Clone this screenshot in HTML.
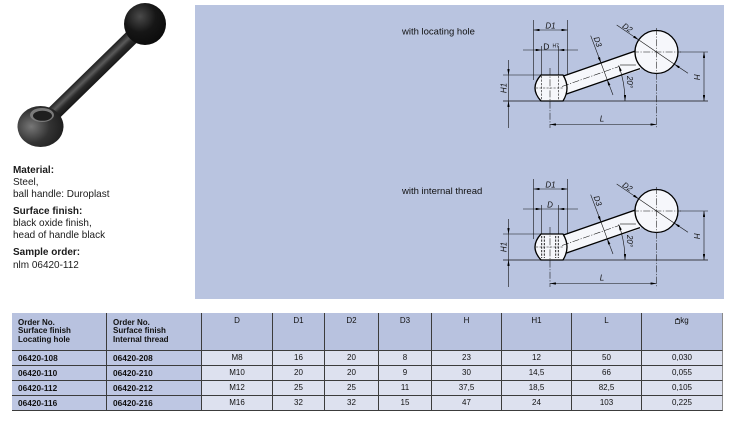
<!DOCTYPE html>
<html><head><meta charset="utf-8">
<style>
*{margin:0;padding:0;box-sizing:border-box}
html,body{width:737px;height:421px;overflow:hidden;background:#fff}
body{position:relative;font-family:"Liberation Sans",Arial,sans-serif;color:#111}
svg.main{position:absolute;left:0;top:0}
.l{position:absolute;left:13px;font-size:10.5px;line-height:12px;white-space:nowrap;transform:scaleX(0.95);transform-origin:0 0;color:#1a1a1a}
.b{font-weight:bold}
.grid{position:absolute;left:12px;top:313px;display:grid;grid-template-columns:95px 95px 71px 52px 54px 53px 70px 70px 70px 81px;grid-template-rows:38px 15px 15px 15px 15px;width:711px}
.grid div{border-right:1px solid #3c3c3c;border-bottom:1px solid #3c3c3c;white-space:nowrap;overflow:hidden}
.h{background:#b8c2df;font-size:8px;line-height:8.5px}
.ho{font-weight:bold;padding:5.5px 0 0 6px}
.hc{text-align:center;padding-top:4px}
.o{background:#bec7e3;font-weight:bold;font-size:8.3px;line-height:14px;padding-left:6px}
.v{background:#dde1ef;font-size:8px;line-height:14px;text-align:center}
.grid div.e{border-right:1px solid #8a8a8a}
.n{stroke:#111;stroke-width:.6;fill:none}
.k{stroke:#000;stroke-width:1.3}
.c{stroke:#111;stroke-width:.55;stroke-dasharray:7 1.5 1.2 1.5;fill:none}
.hd{stroke:#111;stroke-width:.6;stroke-dasharray:2.2 1.3;fill:none}
.lb{font-family:"Liberation Sans",sans-serif;font-style:italic;font-size:8px;fill:#111}
.tt{font-family:"Liberation Sans",sans-serif;font-size:9.5px;fill:#111}
</style></head><body>
<svg class="main" width="737" height="421" viewBox="0 0 737 421" xmlns="http://www.w3.org/2000/svg">
<defs>
<marker id="ar" viewBox="0 0 6 2.4" refX="6" refY="1.2" markerWidth="6" markerHeight="2.4" orient="auto-start-reverse" markerUnits="userSpaceOnUse"><path d="M0,0L6,1.2L0,2.4z" fill="#000"/></marker>
<radialGradient id="g1" cx="0.38" cy="0.32" r="0.75"><stop offset="0" stop-color="#4a4a4a"/><stop offset="0.5" stop-color="#161616"/><stop offset="1" stop-color="#0a0a0a"/></radialGradient>
<radialGradient id="g2" cx="0.3" cy="0.5" r="0.8"><stop offset="0" stop-color="#777"/><stop offset="0.5" stop-color="#333"/><stop offset="1" stop-color="#181818"/></radialGradient>
<linearGradient id="sg" gradientUnits="userSpaceOnUse" x1="44.8" y1="111.6" x2="55.2" y2="122.4"><stop offset="0" stop-color="#222"/><stop offset="0.35" stop-color="#5a5a5a"/><stop offset="0.6" stop-color="#2a2a2a"/><stop offset="1" stop-color="#161616"/></linearGradient>
</defs>

<!-- photo -->
<polygon points="55.2,122.4 44.8,111.6 130.8,27.6 141.2,38.4" fill="url(#sg)"/>
<circle cx="145" cy="24" r="21" fill="url(#g1)"/>
<ellipse cx="40.5" cy="126.5" rx="23" ry="20.5" fill="url(#g2)"/>
<ellipse cx="42" cy="115" rx="12" ry="7" fill="#7a7a7a"/>
<ellipse cx="42.5" cy="115.8" rx="9.5" ry="5" fill="#1e1e1e"/>

<!-- panel -->
<rect x="195" y="5" width="529" height="294" fill="#b9c4e0"/>

<!-- ============ Diagram 1 ============ -->
<g>
<text class="tt" x="402" y="34.5">with locating hole</text>
<line x1="503" y1="101" x2="708" y2="101" class="n" style="stroke-width:.8"/>
<line x1="503" y1="75" x2="541" y2="75" class="n"/>
<line x1="680" y1="52" x2="708" y2="52" class="n"/>
<line x1="508.5" y1="60" x2="508.5" y2="75" class="n" marker-end="url(#ar)"/>
<line x1="508.5" y1="128" x2="508.5" y2="101" class="n" marker-end="url(#ar)"/>
<line x1="508.5" y1="75" x2="508.5" y2="101" class="n"/>
<text class="lb" transform="translate(506.5,88) rotate(-90)" text-anchor="middle">H1</text>
<line x1="533.5" y1="20" x2="533.5" y2="80" class="n"/>
<line x1="567.5" y1="20" x2="567.5" y2="75" class="n"/>
<line x1="533.5" y1="30" x2="567.5" y2="30" class="n" marker-start="url(#ar)" marker-end="url(#ar)"/>
<text class="lb" x="550.5" y="28.5" text-anchor="middle">D1</text>
<line x1="541.7" y1="46" x2="541.7" y2="75" class="n"/>
<line x1="558.3" y1="46" x2="558.3" y2="75" class="n"/>
<line x1="523" y1="50" x2="541.7" y2="50" class="n" marker-end="url(#ar)"/>
<line x1="578" y1="50" x2="558.3" y2="50" class="n" marker-end="url(#ar)"/>
<line x1="541.7" y1="50" x2="558.3" y2="50" class="n"/>
<text x="543.3" y="49.5" font-size="8.5" font-family="Liberation Sans, sans-serif" fill="#111">D</text>
<text x="552.5" y="47.3" font-size="5" font-family="Liberation Sans, sans-serif" fill="#111">H7</text>
<line x1="704" y1="52" x2="704" y2="101" class="n" marker-start="url(#ar)" marker-end="url(#ar)"/>
<text class="lb" transform="translate(694,77) rotate(90)" text-anchor="middle">H</text>
<line x1="550" y1="124.5" x2="656.5" y2="124.5" class="n" marker-start="url(#ar)" marker-end="url(#ar)"/>
<text class="lb" x="602" y="121.5" text-anchor="middle">L</text>
<polygon points="563,76 636,50.5 641,69.5 566.5,94" fill="#f6f7fb"/>
<line x1="563.5" y1="76" x2="636" y2="50.8" class="k"/>
<line x1="566.5" y1="94" x2="640" y2="68.6" class="k"/>
<path d="M541,75 L563,75 Q571,88 563,101 L541,101 Q529,88 541,75 Z" fill="#f6f7fb" class="k"/>
<circle cx="656.5" cy="52" r="21.5" fill="#f6f7fb" class="k"/>
<line x1="541.7" y1="76" x2="541.7" y2="100" class="hd"/>
<line x1="558.3" y1="76" x2="558.3" y2="100" class="hd"/>
<line x1="536" y1="88" x2="564" y2="88" class="hd"/>
<line x1="550" y1="68" x2="550" y2="128" class="c"/>
<line x1="562" y1="86.5" x2="619" y2="66.5" class="c"/>
<line x1="620" y1="65" x2="636" y2="65" class="n"/>
<path d="M625,101 A104,104 0 0 0 618.7,65.4" class="n" marker-start="url(#ar)" marker-end="url(#ar)"/>
<text class="lb" transform="translate(627,82) rotate(90)" text-anchor="middle">20°</text>
<line x1="656.5" y1="28" x2="656.5" y2="128" class="c"/>
<line x1="632" y1="52" x2="681" y2="52" class="c"/>
<line x1="616.7" y1="25" x2="638.7" y2="39.9" class="n" marker-end="url(#ar)"/>
<line x1="688" y1="73.3" x2="674.3" y2="64.1" class="n" marker-end="url(#ar)"/>
<line x1="638.7" y1="39.9" x2="674.3" y2="64.1" class="n"/>
<text class="lb" transform="translate(626,30) rotate(34)" text-anchor="middle">D2</text>
<line x1="590.7" y1="35.7" x2="601" y2="63" class="n" marker-end="url(#ar)"/>
<line x1="613" y1="95" x2="607.2" y2="79.7" class="n" marker-end="url(#ar)"/>
<line x1="601" y1="63" x2="607.2" y2="79.7" class="n"/>
<text class="lb" transform="translate(595.2,42.7) rotate(70)" text-anchor="middle">D3</text>
</g>

<!-- ============ Diagram 2 ============ -->
<g transform="translate(0,159)">
<text class="tt" x="402" y="35">with internal thread</text>
<line x1="503" y1="101" x2="708" y2="101" class="n" style="stroke-width:.8"/>
<line x1="503" y1="75" x2="541" y2="75" class="n"/>
<line x1="680" y1="52" x2="708" y2="52" class="n"/>
<line x1="508.5" y1="60" x2="508.5" y2="75" class="n" marker-end="url(#ar)"/>
<line x1="508.5" y1="128" x2="508.5" y2="101" class="n" marker-end="url(#ar)"/>
<line x1="508.5" y1="75" x2="508.5" y2="101" class="n"/>
<text class="lb" transform="translate(506.5,88) rotate(-90)" text-anchor="middle">H1</text>
<line x1="533.5" y1="20" x2="533.5" y2="80" class="n"/>
<line x1="567.5" y1="20" x2="567.5" y2="75" class="n"/>
<line x1="533.5" y1="30" x2="567.5" y2="30" class="n" marker-start="url(#ar)" marker-end="url(#ar)"/>
<text class="lb" x="550.5" y="28.5" text-anchor="middle">D1</text>
<line x1="541.7" y1="46" x2="541.7" y2="75" class="n"/>
<line x1="558.3" y1="46" x2="558.3" y2="75" class="n"/>
<line x1="523" y1="50" x2="541.7" y2="50" class="n" marker-end="url(#ar)"/>
<line x1="578" y1="50" x2="558.3" y2="50" class="n" marker-end="url(#ar)"/>
<line x1="541.7" y1="50" x2="558.3" y2="50" class="n"/>
<text class="lb" x="550" y="48.5" text-anchor="middle">D</text>
<line x1="704" y1="52" x2="704" y2="101" class="n" marker-start="url(#ar)" marker-end="url(#ar)"/>
<text class="lb" transform="translate(694,77) rotate(90)" text-anchor="middle">H</text>
<line x1="550" y1="124.5" x2="656.5" y2="124.5" class="n" marker-start="url(#ar)" marker-end="url(#ar)"/>
<text class="lb" x="602" y="121.5" text-anchor="middle">L</text>
<polygon points="563,76 636,50.5 641,69.5 566.5,94" fill="#f6f7fb"/>
<line x1="563.5" y1="76" x2="636" y2="50.8" class="k"/>
<line x1="566.5" y1="94" x2="640" y2="68.6" class="k"/>
<path d="M541,75 L563,75 Q571,88 563,101 L541,101 Q529,88 541,75 Z" fill="#f6f7fb" class="k"/>
<circle cx="656.5" cy="52" r="21.5" fill="#f6f7fb" class="k"/>
<line x1="541.7" y1="77" x2="541.7" y2="99" class="hd" style="stroke-width:.9"/>
<line x1="544.3" y1="77" x2="544.3" y2="99" class="hd" style="stroke-width:.9"/>
<line x1="555.7" y1="77" x2="555.7" y2="99" class="hd" style="stroke-width:.9"/>
<line x1="558.3" y1="77" x2="558.3" y2="99" class="hd" style="stroke-width:.9"/>
<line x1="536" y1="88" x2="564" y2="88" class="hd"/>
<line x1="550" y1="68" x2="550" y2="128" class="c"/>
<line x1="562" y1="86.5" x2="619" y2="66.5" class="c"/>
<line x1="620" y1="65" x2="636" y2="65" class="n"/>
<path d="M625,101 A104,104 0 0 0 618.7,65.4" class="n" marker-start="url(#ar)" marker-end="url(#ar)"/>
<text class="lb" transform="translate(627,82) rotate(90)" text-anchor="middle">20°</text>
<line x1="656.5" y1="28" x2="656.5" y2="128" class="c"/>
<line x1="632" y1="52" x2="681" y2="52" class="c"/>
<line x1="616.7" y1="25" x2="638.7" y2="39.9" class="n" marker-end="url(#ar)"/>
<line x1="688" y1="73.3" x2="674.3" y2="64.1" class="n" marker-end="url(#ar)"/>
<line x1="638.7" y1="39.9" x2="674.3" y2="64.1" class="n"/>
<text class="lb" transform="translate(626,30) rotate(34)" text-anchor="middle">D2</text>
<line x1="590.7" y1="35.7" x2="601" y2="63" class="n" marker-end="url(#ar)"/>
<line x1="613" y1="95" x2="607.2" y2="79.7" class="n" marker-end="url(#ar)"/>
<line x1="601" y1="63" x2="607.2" y2="79.7" class="n"/>
<text class="lb" transform="translate(595.2,42.7) rotate(70)" text-anchor="middle">D3</text>
</g>
</svg>

<div class="l b" style="top:163.7px">Material:</div>
<div class="l" style="top:175.9px">Steel,</div>
<div class="l" style="top:188.1px">ball handle: Duroplast</div>
<div class="l b" style="top:204.7px">Surface finish:</div>
<div class="l" style="top:217.1px">black oxide finish,</div>
<div class="l" style="top:229.4px">head of handle black</div>
<div class="l b" style="top:246.4px">Sample order:</div>
<div class="l" style="top:258.7px">nlm 06420-112</div>

<div class="grid">
<div class="h ho">Order No.<br>Surface finish<br>Locating hole</div>
<div class="h ho">Order No.<br>Surface finish<br>Internal thread</div>
<div class="h hc">D</div>
<div class="h hc">D1</div>
<div class="h hc">D2</div>
<div class="h hc">D3</div>
<div class="h hc">H</div>
<div class="h hc">H1</div>
<div class="h hc">L</div>
<div class="h hc e"><svg width="5" height="6" viewBox="0 0 5 6" style="vertical-align:-0.5px"><rect x="0.4" y="1.6" width="4.2" height="4" fill="none" stroke="#222" stroke-width="0.7"/><rect x="1.6" y="0" width="1.8" height="2" fill="#222"/></svg>kg</div>

<div class="o">06420-108</div><div class="o">06420-208</div><div class="v">M8</div><div class="v">16</div><div class="v">20</div><div class="v">8</div><div class="v">23</div><div class="v">12</div><div class="v">50</div><div class="v e">0,030</div>
<div class="o">06420-110</div><div class="o">06420-210</div><div class="v">M10</div><div class="v">20</div><div class="v">20</div><div class="v">9</div><div class="v">30</div><div class="v">14,5</div><div class="v">66</div><div class="v e">0,055</div>
<div class="o">06420-112</div><div class="o">06420-212</div><div class="v">M12</div><div class="v">25</div><div class="v">25</div><div class="v">11</div><div class="v">37,5</div><div class="v">18,5</div><div class="v">82,5</div><div class="v e">0,105</div>
<div class="o">06420-116</div><div class="o">06420-216</div><div class="v">M16</div><div class="v">32</div><div class="v">32</div><div class="v">15</div><div class="v">47</div><div class="v">24</div><div class="v">103</div><div class="v e">0,225</div>
</div>
</body></html>
